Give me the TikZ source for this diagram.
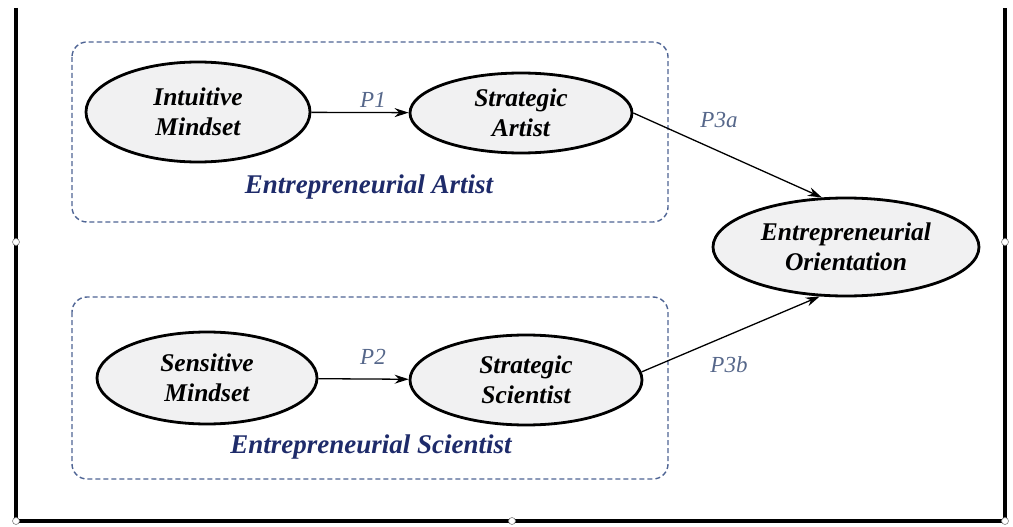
\documentclass[tikz,border=0pt]{standalone}
\usepackage{fontspec}
\setmainfont{Liberation Serif}
\usetikzlibrary{shapes.geometric}
\usetikzlibrary{arrows.meta}
\definecolor{ellipsegray}{HTML}{F1F1F2}
\definecolor{groupblue}{HTML}{4E6494}
\definecolor{groupnavy}{HTML}{1E2B6A}
\definecolor{pathslate}{HTML}{56678A}
\def\Frame{4}
\def\Corner{15}

\begin{document}
\begin{tikzpicture}[x=1pt,y=-1pt,
  construct/.style={ellipse, draw, line width=2.8pt, fill=ellipsegray,
    inner sep=0pt, align=center,
    font=\bfseries\itshape\fontsize{25.5}{30}\selectfont},
  groupbox/.style={draw=groupblue, line width=1.4pt,
    dash pattern=on 5pt off 3pt, rounded corners=\Corner pt},
  link/.style={-{Stealth[length=14pt,width=9pt]}, line width=1.3pt},
  plabel/.style={font=\itshape\fontsize{23}{25}\selectfont, text=pathslate},
  grouplabel/.style={font=\bfseries\itshape\fontsize{27}{30}\selectfont, text=groupnavy}]
  \useasboundingbox (0,0) rectangle (1013,527);
  % frame
  \draw [line width=\Frame pt] (16,8) -- (16,521) -- (1005,521) -- (1005,8);
  \foreach \hx/\hy in {16/242,1005/242,512/521,16/521,1005/521}
    \draw [gray, fill=white, line width=0.6pt] (\hx,\hy) circle (3.5);
  % groups
  \draw [groupbox] (72,42) rectangle (668,222);
  \draw [groupbox] (72,297) rectangle (668,479);
  \node [grouplabel] (ArtistLabel) at (369,187) {Entrepreneurial Artist};
  \node [grouplabel] (ScientistLabel) at (371,447) {Entrepreneurial Scientist};
  % constructs
  \node [construct, minimum width=224, minimum height=100] (IM) at (198,112) {Intuitive\\Mindset};
  \node [construct, minimum width=222, minimum height=80] (SA) at (521,113) {Strategic\\Artist};
  \node [construct, minimum width=220, minimum height=92] (SM) at (207,378) {Sensitive\\Mindset};
  \node [construct, minimum width=232, minimum height=90] (SS) at (526,380) {Strategic\\Scientist};
  \node [construct, minimum width=266, minimum height=98] (EO) at (846,247) {Entrepreneurial\\Orientation};
  % paths
  \draw [link] (IM) -- (SA);
  \draw [link] (SM) -- (SS);
  \draw [link] (SA.east) -- (EO.116);
  \draw [link] (SS.4) -- (EO.242);
  % labels
  \node [plabel] (P1) at (373,100) {P1};
  \node [plabel] (P2) at (373,357) {P2};
  \node [plabel] (P3a) at (719,120) {P3a};
  \node [plabel] (P3b) at (729,365) {P3b};
\end{tikzpicture}
\end{document}
